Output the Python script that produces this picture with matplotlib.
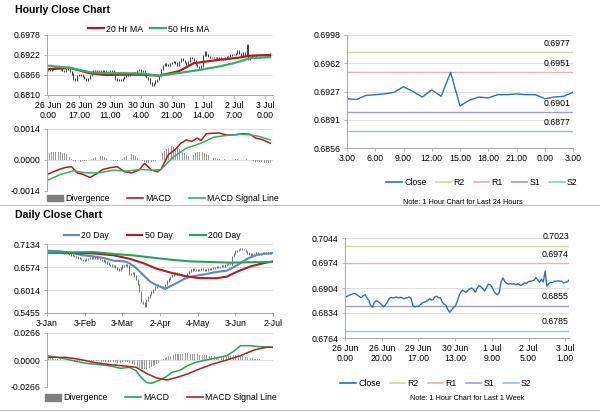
'''
Hourly and daily close charts (AUD/USD style report page).
'''

import numpy as np
import matplotlib
matplotlib.use("Agg")
import matplotlib.pyplot as plt
from matplotlib.lines import Line2D
from matplotlib.patches import Patch

plt.rcParams["font.family"] = ["Liberation Sans", "DejaVu Sans"]

# Data

# hourly closes, 26 Jun 0.00 .. 3 Jul 3.00 (shared by the hourly and the 1 week chart)
hourly_close = [
    0.6878, 0.6880, 0.6883, 0.6885, 0.6887, 0.6889, 0.6887, 0.6883, 0.6879, 0.6877,
    0.6883, 0.6885, 0.6876, 0.6869, 0.6855, 0.6850, 0.6864, 0.6868, 0.6866, 0.6862,
    0.6857, 0.6851, 0.6857, 0.6864, 0.6874, 0.6878, 0.6876, 0.6877, 0.6879, 0.6876,
    0.6878, 0.6877, 0.6874, 0.6876, 0.6877, 0.6879, 0.6874, 0.6855, 0.6851, 0.6853,
    0.6852, 0.6857, 0.6862, 0.6864, 0.6866, 0.6869, 0.6874, 0.6870, 0.6872, 0.6879,
    0.6881, 0.6876, 0.6877, 0.6864, 0.6859, 0.6855, 0.6844, 0.6836, 0.6842, 0.6849,
    0.6853, 0.6864, 0.6881, 0.6892, 0.6898, 0.6894, 0.6892, 0.6898, 0.6902, 0.6904,
    0.6900, 0.6892, 0.6904, 0.6911, 0.6907, 0.6902, 0.6896, 0.6904, 0.6915, 0.6913,
    0.6907, 0.6896, 0.6889, 0.6885, 0.6891, 0.6921, 0.6932, 0.6922, 0.6917, 0.6915,
    0.6916, 0.6915, 0.6916, 0.6913, 0.6916, 0.6913, 0.6911, 0.6916, 0.6918, 0.6917,
    0.6922, 0.6923, 0.6924, 0.6926, 0.6933, 0.6927, 0.6920, 0.6929, 0.6921, 0.6951,
    0.6909, 0.6916, 0.6920, 0.6919, 0.6923, 0.6923, 0.6924, 0.6923, 0.6923, 0.6918,
    0.6920, 0.6921, 0.6926,
]

ma20_hr_x = [0, 12, 23, 32, 41, 52, 61, 72, 80, 93, 104, 111, 122]
ma20_hr = [0.6882, 0.6886, 0.6871, 0.6866, 0.6867, 0.6867, 0.6864, 0.6877,
           0.6899, 0.6908, 0.6914, 0.6920, 0.6922]
ma50_hr_x = [0, 12, 23, 32, 41, 52, 61, 71, 83, 93, 102, 111, 122]
ma50_hr = [0.6892, 0.6886, 0.6874, 0.6871, 0.6871, 0.6870, 0.6864, 0.6871,
           0.6880, 0.6889, 0.6899, 0.6913, 0.6916]

macd_hr_x = [0, 3, 7, 10, 13, 16, 19, 23, 27, 30, 34, 38, 42, 46, 50, 53, 57, 60,
             62, 66, 70, 73, 76, 79, 82, 84, 87, 94, 98, 103, 107, 111, 114, 118, 122]
macd_hr = [-0.00064, -0.00053, -0.00040, -0.00033, -0.00030, -0.00058, -0.00064,
           -0.00079, -0.00061, -0.00043, -0.00035, -0.00030, -0.00053, -0.00058,
           -0.00046, -0.00015, -0.00046, -0.00053, -0.00043, 0.00023, 0.00049,
           0.00076, 0.00091, 0.00084, 0.00099, 0.00088, 0.00119, 0.00122, 0.00113,
           0.00114, 0.00119, 0.00116, 0.00099, 0.00091, 0.00076]
signal_hr_x = [0, 7, 14, 21, 28, 36, 43, 51, 58, 62, 69, 76, 84, 91, 98, 105, 111, 116, 122]
signal_hr = [-0.00091, -0.00065, -0.00049, -0.00058, -0.00058, -0.00046, -0.00050,
             -0.00043, -0.00046, -0.00043, 0.00015, 0.00053, 0.00076, 0.00103,
             0.00111, 0.00116, 0.00114, 0.00106, 0.00091]
divergence_hr = [
    0.00030, 0.00032, 0.00034, 0.00036, 0.00038, 0.00038, 0.00036, 0.00034, 0.00032, 0.00030,
    0.00026, 0.00020, 0.00012, 0.00004, -0.00004, -0.00008, -0.00010, -0.00010, -0.00008, -0.00006,
    -0.00006, -0.00004, -0.00002, 0.00002, 0.00006, 0.00010, 0.00014, 0.00016, 0.00018, 0.00018,
    0.00016, 0.00014, 0.00010, 0.00006, 0.00002, -0.00002, -0.00004, -0.00004, -0.00004, -0.00002,
    0.00002, 0.00006, 0.00012, 0.00018, 0.00022, 0.00026, 0.00026, 0.00022, 0.00016, 0.00010,
    0.00004, -0.00002, -0.00006, -0.00010, -0.00012, -0.00012, -0.00010, -0.00008, -0.00006, -0.00004,
    0.00000, 0.00010, 0.00020, 0.00030, 0.00040, 0.00048, 0.00055, 0.00060, 0.00062, 0.00060,
    0.00056, 0.00052, 0.00048, 0.00042, 0.00036, 0.00030, 0.00024, 0.00018, 0.00016, 0.00018,
    0.00024, 0.00030, 0.00034, 0.00036, 0.00036, 0.00034, 0.00030, 0.00026, 0.00022, 0.00018,
    0.00014, 0.00010, 0.00008, 0.00006, 0.00004, 0.00004, 0.00003, 0.00003, 0.00002, 0.00002,
    0.00002, 0.00002, 0.00002, 0.00003, 0.00003, 0.00002, 0.00001, 0.00000, 0.00002, 0.00004,
    0.00002, -0.00002, -0.00004, -0.00006, -0.00008, -0.00008, -0.00009, -0.00010, -0.00011, -0.00012,
    -0.00013, -0.00014, -0.00015,
]

hr_ticks = ["26 Jun\n0.00", "26 Jun\n17.00", "29 Jun\n11.00", "30 Jun\n4.00",
            "30 Jun\n21.00", "1 Jul\n14.00", "2 Jul\n7.00", "3 Jul\n0.00"]
hr_ylabels = ["0.6810", "0.6866", "0.6922", "0.6978"]
hr_macd_ylabels = ["-0.0014", "0.0000", "0.0014"]

# last 24 hours
day_ticks = ["3.00", "6.00", "9.00", "12.00", "15.00", "18.00", "21.00", "0.00", "3.00"]
day_ylabels = ["0.6856", "0.6891", "0.6927", "0.6962", "0.6998"]
day_levels = [0.6977, 0.6951, 0.6901, 0.6877]  # R2, R1, S1, S2
day_window = 25

# last week
week_ticks = ["26 Jun\n0.00", "26 Jun\n20.00", "29 Jun\n17.00", "30 Jun\n13.00",
              "1 Jul\n9.00", "2 Jul\n5.00", "3 Jul\n1.00"]
week_ylabels = ["0.6764", "0.6834", "0.6904", "0.6974", "0.7044"]
week_levels = [0.7023, 0.6974, 0.6855, 0.6785]

# daily closes, 3 Jan .. 2 Jul
daily_close = [
    0.6972, 0.6968, 0.6975, 0.6960, 0.6956, 0.6950, 0.6958, 0.6945, 0.6939, 0.6930,
    0.6922, 0.6915, 0.6905, 0.6890, 0.6872, 0.6858, 0.6840, 0.6825, 0.6793, 0.6780,
    0.6760, 0.6737, 0.6750, 0.6765, 0.6777, 0.6790, 0.6800, 0.6810, 0.6798, 0.6785,
    0.6777, 0.6760, 0.6745, 0.6728, 0.6700, 0.6670, 0.6631, 0.6620, 0.6605, 0.6591,
    0.6560, 0.6530, 0.6509, 0.6550, 0.6591, 0.6610, 0.6631, 0.6591, 0.6388, 0.6420,
    0.6428, 0.6350, 0.6266, 0.6150, 0.5982, 0.5739, 0.5700, 0.5617, 0.5779, 0.5840,
    0.5901, 0.5960, 0.6023, 0.6080, 0.6144, 0.6120, 0.6104, 0.6080, 0.6063, 0.6150,
    0.6226, 0.6290, 0.6347, 0.6372, 0.6400, 0.6428, 0.6410, 0.6395, 0.6388, 0.6370,
    0.6355, 0.6347, 0.6420, 0.6469, 0.6500, 0.6534, 0.6510, 0.6485, 0.6500, 0.6515,
    0.6526, 0.6515, 0.6505, 0.6501, 0.6520, 0.6530, 0.6534, 0.6550, 0.6565, 0.6574,
    0.6580, 0.6585, 0.6591, 0.6605, 0.6620, 0.6631, 0.6640, 0.6631, 0.6834, 0.6900,
    0.6956, 0.6975, 0.6996, 0.7010, 0.7000, 0.6996, 0.6950, 0.6915, 0.6890, 0.6874,
    0.6895, 0.6905, 0.6915, 0.6900, 0.6891, 0.6900, 0.6910, 0.6915, 0.6905, 0.6910,
    0.6915, 0.6925, 0.6939,
]

ma20_d_x = [0, 8, 15, 21, 27, 33, 39, 45, 48, 52, 56, 60, 64, 69, 74, 80, 85, 91, 99, 105, 111, 117, 123, 132]
ma20_d = [0.6972, 0.6956, 0.6915, 0.6858, 0.6834, 0.6793, 0.6728, 0.6712, 0.6672,
          0.6550, 0.6388, 0.6226, 0.6128, 0.6047, 0.6144, 0.6282, 0.6347, 0.6388,
          0.6453, 0.6485, 0.6615, 0.6777, 0.6874, 0.6915]
ma50_d_x = [0, 15, 27, 39, 48, 56, 64, 72, 80, 88, 99, 105, 111, 119, 127, 132]
ma50_d = [0.6915, 0.6912, 0.6905, 0.6858, 0.6777, 0.6672, 0.6534, 0.6440, 0.6360,
          0.6307, 0.6300, 0.6340, 0.6460, 0.6591, 0.6672, 0.6712]
ma200_d_x = [0, 15, 27, 39, 50, 62, 72, 83, 95, 107, 119, 132]
ma200_d = [0.6915, 0.6930, 0.6939, 0.6891, 0.6858, 0.6800, 0.6753, 0.6712, 0.6696,
           0.6680, 0.6690, 0.6696]

macd_d_x = [0, 6, 11, 17, 23, 31, 37, 43, 48, 52, 55, 58, 61, 65, 69, 73, 78, 82,
            87, 93, 99, 105, 109, 113, 119, 124, 132]
macd_d = [0.0043, 0.0026, 0.0010, -0.0013, -0.0033, -0.0046, -0.0059, -0.0082,
          -0.0072, -0.0105, -0.0171, -0.0220, -0.0230, -0.0204, -0.0171, -0.0122,
          -0.0099, -0.0056, -0.0023, 0.0000, 0.0020, 0.0043, 0.0085, 0.0141,
          0.0141, 0.0131, 0.0125]
signal_d_x = [0, 11, 19, 27, 37, 47, 52, 58, 64, 70, 76, 82, 89, 97, 105, 113, 121, 128, 132]
signal_d = [0.0026, 0.0026, 0.0007, -0.0023, -0.0046, -0.0062, -0.0072, -0.0131,
            -0.0177, -0.0197, -0.0171, -0.0138, -0.0089, -0.0039, 0.0000, 0.0043,
            0.0099, 0.0125, 0.0125]
divergence_d = [
    0.0015, 0.0016, 0.0016, 0.0015, 0.0014, 0.0012, 0.0010, 0.0008, 0.0006, 0.0004,
    0.0002, 0.0000, -0.0002, -0.0004, -0.0006, -0.0008, -0.0010, -0.0012, -0.0013, -0.0014,
    -0.0014, -0.0013, -0.0012, -0.0011, -0.0010, -0.0010, -0.0010, -0.0011, -0.0012, -0.0013,
    -0.0014, -0.0015, -0.0016, -0.0017, -0.0018, -0.0019, -0.0020, -0.0021, -0.0022, -0.0023,
    -0.0024, -0.0025, -0.0026, -0.0025, -0.0023, -0.0022, -0.0022, -0.0024, -0.0030, -0.0036,
    -0.0044, -0.0052, -0.0060, -0.0068, -0.0076, -0.0084, -0.0090, -0.0092, -0.0090, -0.0086,
    -0.0080, -0.0072, -0.0062, -0.0050, -0.0038, -0.0026, -0.0014, -0.0002, 0.0010, 0.0020,
    0.0030, 0.0038, 0.0044, 0.0048, 0.0052, 0.0055, 0.0058, 0.0060, 0.0062, 0.0064,
    0.0065, 0.0066, 0.0066, 0.0065, 0.0064, 0.0062, 0.0060, 0.0058, 0.0056, 0.0054,
    0.0052, 0.0050, 0.0048, 0.0046, 0.0044, 0.0042, 0.0040, 0.0038, 0.0036, 0.0034,
    0.0032, 0.0030, 0.0030, 0.0030, 0.0032, 0.0036, 0.0040, 0.0044, 0.0048, 0.0050,
    0.0050, 0.0048, 0.0045, 0.0042, 0.0038, 0.0034, 0.0030, 0.0026, 0.0022, 0.0018,
    0.0015, 0.0012, 0.0010, 0.0008, 0.0006, 0.0004, 0.0003, 0.0002, 0.0001, 0.0000,
    -0.0001, -0.0001, -0.0001,
]
d_ticks = ["3-Jan", "3-Feb", "3-Mar", "2-Apr", "4-May", "3-Jun", "2-Jul"]
d_ylabels = ["0.5455", "0.6014", "0.6574", "0.7134"]
d_macd_ylabels = ["-0.0266", "0.0000", "0.0266"]

# Constants

W, H = 600, 413
FS = 6.3
RED = "#C0141B"
GREEN = "#2BB36B"
BLUE = "#5B8AC6"
DRED = "#B01E23"
DGREEN = "#1FA55C"
CLOSE_C = "#2A72B5"
LEVEL_C = ["#D4D6A8", "#E3B4B0", "#A49CC4", "#8CC7DE"]
LEVEL_N = ["R2", "R1", "S1", "S2"]
GRID = "#D9D9D9"
SPINE = "#A6A6A6"


def box(x0, y0, x1, y1):
    return [x0 / W, 1 - y1 / H, (x1 - x0) / W, (y1 - y0) / H]


def style(ax, ylabels, lo, hi):
    ax.set_ylim(lo, hi)
    ax.set_yticks(np.linspace(lo, hi, len(ylabels)))
    ax.set_yticklabels(ylabels)
    ax.grid(axis="y", color=GRID, lw=0.6)
    ax.set_axisbelow(True)
    for s in ["top", "right"]:
        ax.spines[s].set_visible(False)
    for s in ["left", "bottom"]:
        ax.spines[s].set_color(SPINE)
        ax.spines[s].set_linewidth(0.7)
    ax.tick_params(labelsize=FS, length=2.5, width=0.6, color=SPINE, pad=2)


def draw_bars(ax, closes, pad, color):
    closes = np.asarray(closes)
    prev = np.concatenate([[closes[0]], closes[:-1]])
    x = np.arange(len(closes))
    ax.vlines(x, np.minimum(prev, closes) - pad, np.maximum(prev, closes) + pad,
              color=color, lw=0.7)


def legend(fig, handles, labels, cx, cy, spacing):
    fig.legend(handles, labels, loc="center", bbox_to_anchor=(cx / W, 1 - cy / H),
               ncol=len(handles), frameon=False, fontsize=FS, handlelength=1.8,
               handletextpad=0.25, columnspacing=spacing, borderpad=0)


fig = plt.figure(figsize=(6, 4.13), dpi=100)

# Titles and separators
fig.text(15 / W, 1 - 10 / H, "Hourly Close Chart", fontsize=7.6, fontweight="bold", va="center")
fig.text(15 / W, 1 - 215 / H, "Daily Close Chart", fontsize=7.6, fontweight="bold", va="center")
for y in [205, 410]:
    fig.add_artist(Line2D([0, 1], [1 - y / H, 1 - y / H], transform=fig.transFigure,
                          color="#BFBFBF", lw=0.8))

# Hourly close chart
ax = fig.add_axes(box(47, 35, 273, 95))
style(ax, hr_ylabels, 0.6810, 0.6978)
draw_bars(ax, hourly_close, 0.00018, "#3C3C3C")
ax.plot(ma20_hr_x, ma20_hr, color=RED, lw=1.6)
ax.plot(ma50_hr_x, ma50_hr, color=GREEN, lw=1.6)
ax.set_xlim(-0.5, 123.5)
ax.set_xticks(np.arange(len(hr_ticks)) * 17)
ax.set_xticklabels(hr_ticks, linespacing=1.1)
legend(fig, [Line2D([], [], color=RED, lw=1.6), Line2D([], [], color=GREEN, lw=1.6)],
       ["20 Hr MA", "50 Hrs MA"], 149, 29, 0.8)

# Hourly MACD
ax = fig.add_axes(box(47, 129, 273, 191))
style(ax, hr_macd_ylabels, -0.0014, 0.0014)
ax.bar(np.arange(len(divergence_hr)), divergence_hr, width=0.4, color="#9A9A9A")
ax.plot(macd_hr_x, macd_hr, color=RED, lw=1.1)
ax.plot(signal_hr_x, signal_hr, color=GREEN, lw=1.1)
ax.set_xlim(-0.5, 123.5)
ax.set_xticks([])
ax.spines["bottom"].set_visible(False)
legend(fig, [Patch(color="#7F7F7F"), Line2D([], [], color=RED, lw=1.2),
             Line2D([], [], color=GREEN, lw=1.2)],
       ["Divergence", "MACD", "MACD Signal Line"], 163, 199, 2.0)

# Last 24 hours
last = hourly_close[-day_window:]
ax = fig.add_axes(box(347, 35, 573, 148))
style(ax, day_ylabels, 0.6856, 0.6998)
for lvl, c in zip(day_levels, LEVEL_C):
    ax.axhline(lvl, color=c, lw=1.0)
    ax.annotate(f"{lvl:.4f}", (23.7, lvl), xytext=(0, 3), textcoords="offset points",
                ha="right", va="bottom", fontsize=FS)
ax.plot(np.arange(len(last)), last, color=CLOSE_C, lw=1.0)
ax.set_xlim(0, 24)
ax.set_xticks(np.arange(len(day_ticks)) * 3)
ax.set_xticklabels(day_ticks)
legend(fig, [Line2D([], [], color=CLOSE_C, lw=1.2)] +
       [Line2D([], [], color=c, lw=1.2) for c in LEVEL_C],
       ["Close"] + LEVEL_N, 482, 183, 1.0)
fig.text(463 / W, 1 - 202 / H, "Note: 1 Hour Chart for Last 24 Hours", fontsize=5.3,
         ha="center", va="center")

# Daily close chart
ax = fig.add_axes(box(47, 244, 273, 313))
style(ax, d_ylabels, 0.5455, 0.7134)
draw_bars(ax, daily_close, 0.0020, "#6E6E6E")
ax.plot(ma20_d_x, ma20_d, color=BLUE, lw=1.5)
ax.plot(ma50_d_x, ma50_d, color=DRED, lw=1.5)
ax.plot(ma200_d_x, ma200_d, color=DGREEN, lw=1.5)
ax.set_xlim(0, 132)
ax.set_xticks(np.arange(len(d_ticks)) * 22)
ax.set_xticklabels(d_ticks)
legend(fig, [Line2D([], [], color=BLUE, lw=1.6), Line2D([], [], color=DRED, lw=1.6),
             Line2D([], [], color=DGREEN, lw=1.6)],
       ["20 Day", "50 Day", "200 Day"], 152, 236, 2.0)

# Daily MACD
ax = fig.add_axes(box(47, 333, 273, 387))
style(ax, d_macd_ylabels, -0.0266, 0.0266)
ax.bar(np.arange(len(divergence_d)), divergence_d, width=0.45, color="#9A9A9A")
ax.plot(macd_d_x, macd_d, color=DGREEN, lw=1.1)
ax.plot(signal_d_x, signal_d, color=DRED, lw=1.1)
ax.set_xlim(0, 132)
ax.set_xticks([])
ax.spines["bottom"].set_visible(False)
legend(fig, [Patch(color="#7F7F7F"), Line2D([], [], color=DGREEN, lw=1.2),
             Line2D([], [], color=DRED, lw=1.2)],
       ["Divergence", "MACD", "MACD Signal Line"], 161, 398, 2.0)

# Last week
ax = fig.add_axes(box(345, 238, 569, 338))
style(ax, week_ylabels, 0.6764, 0.7044)
for lvl, c in zip(week_levels, LEVEL_C):
    ax.axhline(lvl, color=c, lw=1.0)
    ax.annotate(f"{lvl:.4f}", (122, lvl), xytext=(0, 3), textcoords="offset points",
                ha="right", va="bottom", fontsize=FS)
ax.plot(np.arange(len(hourly_close)), hourly_close, color=CLOSE_C, lw=1.0)
ax.set_xlim(0, 122)
ax.set_xticks(np.arange(len(week_ticks)) * 20)
ax.set_xticklabels(week_ticks, linespacing=1.1)
legend(fig, [Line2D([], [], color=CLOSE_C, lw=1.2)] +
       [Line2D([], [], color=c, lw=1.2) for c in LEVEL_C],
       ["Close"] + LEVEL_N, 436, 384, 1.0)
fig.text(467 / W, 1 - 398 / H, "Note: 1 Hour Chart for Last 1 Week", fontsize=5.3,
         ha="center", va="center")

fig.savefig("out.png", dpi=100)
